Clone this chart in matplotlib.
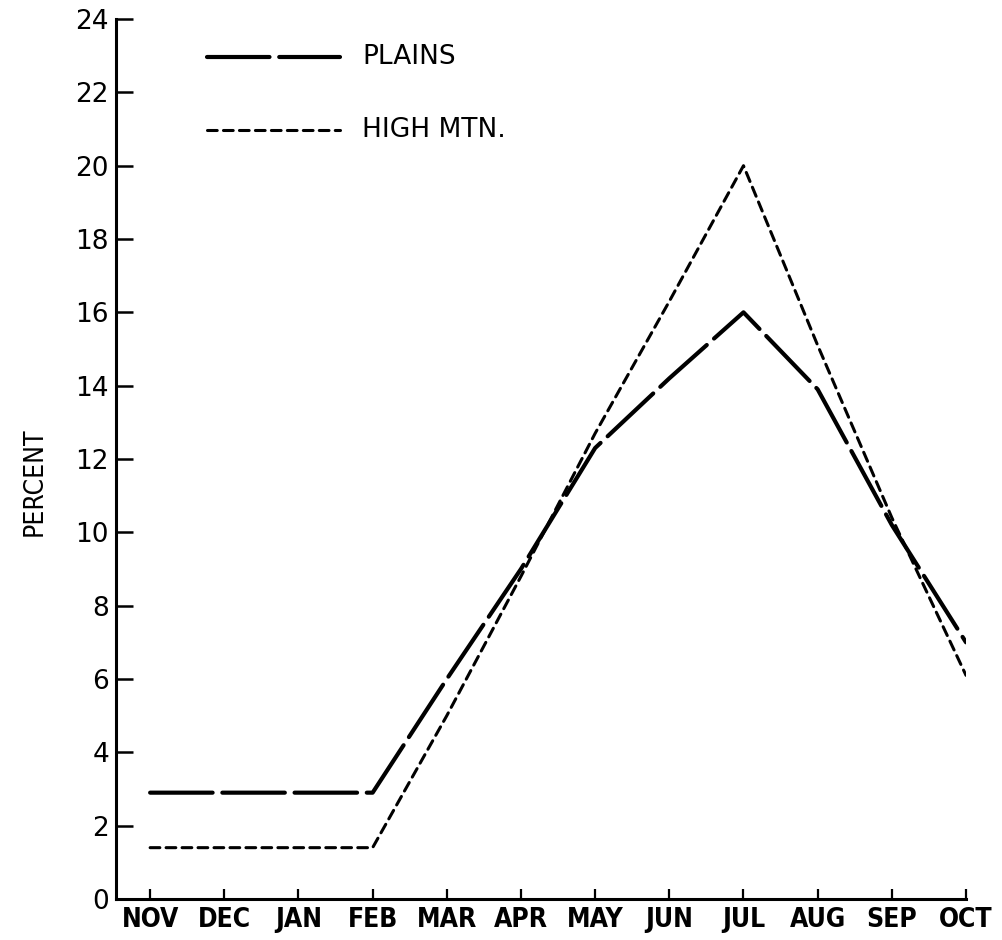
import matplotlib
matplotlib.use("Agg")
import matplotlib.pyplot as plt
from matplotlib import font_manager

months = ["NOV", "DEC", "JAN", "FEB", "MAR", "APR", "MAY", "JUN", "JUL", "AUG", "SEP", "OCT"]
plains = [2.9, 2.9, 2.9, 2.9, 6.0, 9.0, 12.3, 14.2, 16.0, 13.9, 10.2, 7.0]
high_mtn = [1.4, 1.4, 1.4, 1.4, 5.0, 8.8, 12.7, 16.3, 20.0, 15.1, 10.4, 6.1]
y_ticks = list(range(0, 25, 2))

plt.rcParams["lines.scale_dashes"] = False
plt.rcParams["font.family"] = ["DejaVu Sans"]

names = {f.name for f in font_manager.fontManager.ttflist}
narrow = "Liberation Sans Narrow" if "Liberation Sans Narrow" in names else "DejaVu Sans"
narrow_font = dict(family=narrow, stretch="condensed", weight="bold")

W, H = 1003, 940
fig = plt.figure(figsize=(W / 100, H / 100), dpi=100)
ax = fig.add_axes([116 / W, 1 - 899 / H, (966 - 116) / W, (899 - 19) / H])

x = list(range(len(months)))
ax.plot(x, plains, color="black", lw=3.0, dashes=(45, 7), dash_capstyle="round")
ax.plot(x, high_mtn, color="black", lw=2.2, dashes=(7, 4.5), dash_capstyle="round")

ax.set_xlim(-0.46, len(months) - 1)
ax.set_ylim(0, 24)
ax.set_xticks(x)
ax.set_xticklabels(months, fontsize=19, **narrow_font)
ax.set_yticks(y_ticks)
ax.set_yticklabels([str(v) for v in y_ticks], fontsize=19)

for s in ("top", "right"):
    ax.spines[s].set_visible(False)
for s in ("left", "bottom"):
    ax.spines[s].set_linewidth(2.2)

ax.tick_params(axis="y", direction="in", length=12, width=1.8, pad=5)
ax.tick_params(axis="x", direction="in", length=7, width=1.6, pad=6)

fig.text(35 / W, 1 - 482 / H, "PERCENT", rotation=90, ha="center", va="center",
         fontsize=19, family=narrow, stretch="condensed")

# hand-placed key in the upper left
for (yy, lw, dash, txt) in [(57, 3.0, (45, 7), "PLAINS"), (130, 2.2, (7, 4.5), "HIGH MTN.")]:
    fig.add_artist(plt.Line2D([207 / W, 340 / W], [1 - yy / H, 1 - yy / H],
                              color="black", lw=lw, dashes=dash, dash_capstyle="round"))
    fig.text(362 / W, 1 - yy / H, txt, ha="left", va="center", fontsize=19)

fig.savefig("out.png", dpi=100)
